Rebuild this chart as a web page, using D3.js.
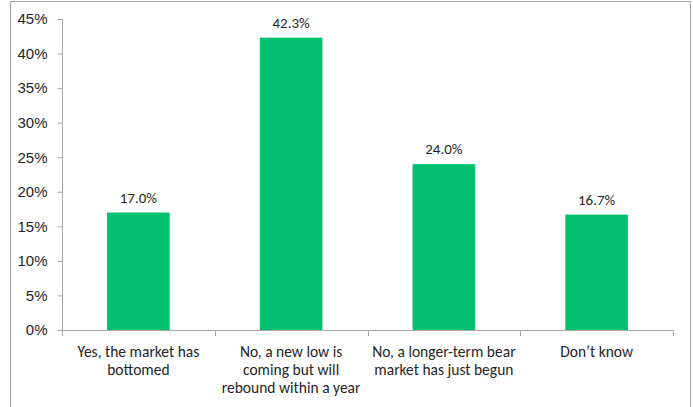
<!DOCTYPE html>
<html>
<head>
<meta charset="utf-8">
<script src="https://cdn.jsdelivr.net/npm/d3@7"></script>
<style>
  body { margin: 0; background: #fff; }
  svg { display: block; font-family: Carlito, Lato, "Open Sans", sans-serif; }
</style>
</head>
<body>
<svg id="chart"></svg>
<script>
const categories = [
    ["Yes, the market has", "bottomed"],
    ["No, a new low is", "coming but will", "rebound within a year"],
    ["No, a longer-term bear", "market has just begun"],
    ["Don\u2019t know"]
];
const values = [17.0, 42.3, 24.0, 16.7];
const yTicks = [0, 5, 10, 15, 20, 25, 30, 35, 40, 45];

const width = 693;
const height = 407;
const margin = {top: 19, right: 20, bottom: 77, left: 62};

const svg = d3.select("#chart")
    .attr("width", width)
    .attr("height", height);

// outer chart frame
svg.append("rect")
    .attr("x", 10.5)
    .attr("y", 1.5)
    .attr("width", 680)
    .attr("height", 420)
    .attr("fill", "none")
    .attr("stroke", "#a6a6a6")
    .attr("stroke-width", 1);

const x = d3.scaleBand()
    .domain(d3.range(categories.length))
    .range([margin.left, 673])
    .paddingInner(0.59)
    .paddingOuter(0.295);

const y = d3.scaleLinear()
    .domain([0, 45])
    .range([330, margin.top]);

// y axis
const yAxis = svg.append("g")
    .attr("transform", `translate(${margin.left + 0.5},0)`)
    .call(d3.axisLeft(y).tickValues(yTicks).tickFormat(d => d + "%").tickSize(5).tickPadding(10));
yAxis.select(".domain").attr("stroke", "#a6a6a6").attr("d", `M-5,${y(45) + 0.5}H0V${y(0) + 0.5}`);
yAxis.selectAll(".tick line").attr("stroke", "#a6a6a6");
yAxis.selectAll(".tick text")
    .attr("fill", "#262626")
    .style("font-size", "15px");

// x axis line + category separator ticks
const step = (673 - margin.left) / categories.length;
const xAxis = svg.append("g");
xAxis.append("line")
    .attr("x1", margin.left)
    .attr("x2", 673)
    .attr("y1", y(0) + 0.5)
    .attr("y2", y(0) + 0.5)
    .attr("stroke", "#a6a6a6");
xAxis.selectAll("line.sep")
    .data(d3.range(categories.length + 1))
    .join("line")
    .attr("class", "sep")
    .attr("x1", i => Math.round(margin.left + i * step) + 0.5)
    .attr("x2", i => Math.round(margin.left + i * step) + 0.5)
    .attr("y1", y(0))
    .attr("y2", y(0) + 6)
    .attr("stroke", "#a6a6a6");

// bars
svg.append("g")
    .selectAll("rect")
    .data(values)
    .join("rect")
    .attr("x", (d, i) => x(i))
    .attr("width", x.bandwidth())
    .attr("y", d => y(d))
    .attr("height", d => y(0) - y(d))
    .attr("fill", "#00bf6f");

// value labels
svg.append("g")
    .selectAll("text")
    .data(values)
    .join("text")
    .attr("x", (d, i) => x(i) + x.bandwidth() / 2)
    .attr("y", d => y(d) - 10)
    .attr("text-anchor", "middle")
    .attr("fill", "#262626")
    .style("font-size", "15px")
    .text(d => d.toFixed(1) + "%");

// category labels
svg.append("g")
    .selectAll("text")
    .data(categories)
    .join("text")
    .attr("x", (d, i) => x(i) + x.bandwidth() / 2)
    .attr("y", 357)
    .attr("text-anchor", "middle")
    .attr("fill", "#262626")
    .style("font-size", "15.5px")
    .each(function (lines) {
        d3.select(this).selectAll("tspan")
            .data(lines)
            .join("tspan")
            .attr("x", d3.select(this).attr("x"))
            .attr("dy", (l, j) => j === 0 ? 0 : 18)
            .text(l => l);
    });
</script>
</body>
</html>
